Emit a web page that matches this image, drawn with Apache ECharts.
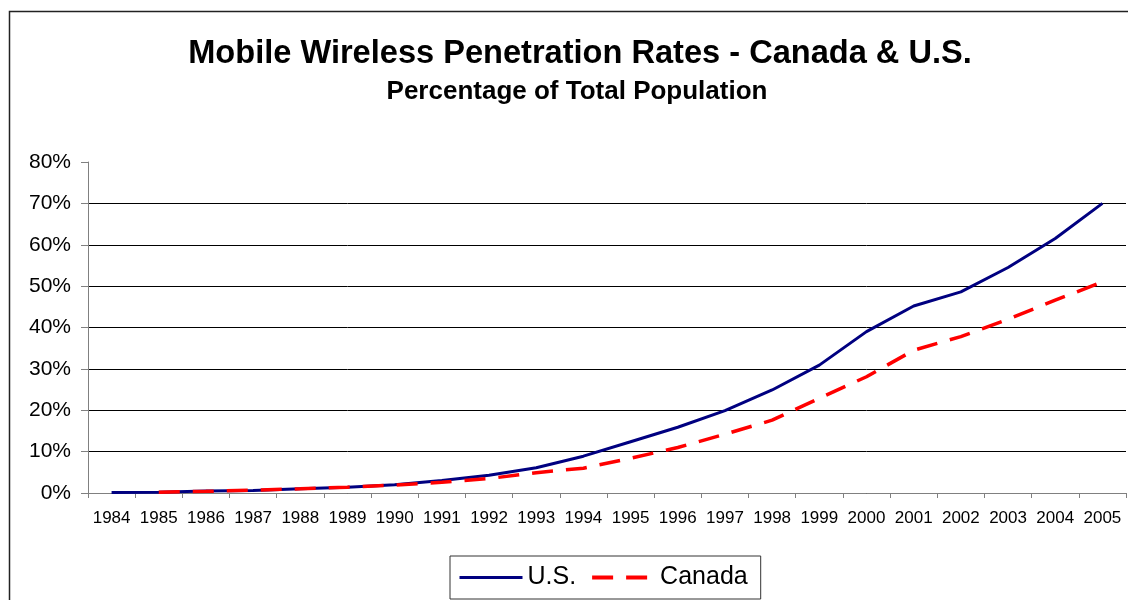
<!DOCTYPE html>
<html>
<head>
<meta charset="utf-8">
<script src="https://cdn.jsdelivr.net/npm/echarts@6/dist/echarts.min.js"></script>
<style>
  html, body { margin: 0; padding: 0; background: #fff; }
  #chart { width: 1128px; height: 600px; }
</style>
</head>
<body>
<div id="chart"></div>
<script>
// Years on the category axis
const years = ['1984','1985','1986','1987','1988','1989','1990','1991','1992','1993','1994',
               '1995','1996','1997','1998','1999','2000','2001','2002','2003','2004','2005'];

// Mobile wireless subscribers as a share of total population (%)
const usRates = [0.1, 0.2, 0.5, 0.6, 1.0, 1.4, 2.0, 3.0, 4.3, 6.1, 8.9,
                 12.4, 15.9, 19.9, 24.9, 30.9, 39.0, 45.2, 48.6, 54.5, 61.5, 70.0];
const canadaRates = [null, 0.2, 0.4, 0.7, 1.0, 1.4, 1.9, 2.6, 3.5, 4.9, 6.0,
                     8.4, 11.0, 14.2, 17.6, 22.9, 28.1, 34.5, 37.8, 42.0, 46.6, 51.0];

// Value axis ticks
const yMin = 0, yMax = 80, yStep = 10;

const FONT = 'Liberation Sans, Arial, sans-serif';

const chart = echarts.init(document.getElementById('chart'), null, { renderer: 'canvas' });

chart.setOption({
  backgroundColor: '#fff',
  animation: false,
  textStyle: { fontFamily: FONT, color: '#000' },
  title: [
    {
      text: 'Mobile Wireless Penetration Rates - Canada & U.S.',
      left: 575, top: 33, textAlign: 'center',
      textStyle: { fontSize: 32.6, fontWeight: 'bold', color: '#000', fontFamily: FONT }
    },
    {
      text: 'Percentage of Total Population',
      left: 572, top: 74, textAlign: 'center',
      textStyle: { fontSize: 26, fontWeight: 'bold', color: '#000', fontFamily: FONT }
    }
  ],
  graphic: [
    {
      type: 'rect', silent: true, z: -1,
      shape: { x: 9.5, y: 11.5, width: 1200, height: 700 },
      style: { fill: 'none', stroke: '#222', lineWidth: 1.5 }
    }
  ],
  legend: {
    data: [
      { name: 'U.S.', lineStyle: { width: 3 } },
      { name: 'Canada', lineStyle: { width: 4 } }
    ],
    left: 450, top: 556,
    padding: [9, 13, 9, 8],
    itemGap: 14,
    itemWidth: 63, itemHeight: 14,
    borderColor: '#333', borderWidth: 1,
    backgroundColor: '#fff',
    itemStyle: { opacity: 0 },
    textStyle: { fontSize: 25, color: '#000', fontFamily: FONT }
  },
  grid: { left: 88, right: 2, top: 162, bottom: 107, containLabel: false },
  xAxis: {
    type: 'category',
    data: years,
    boundaryGap: true,
    axisLine: { show: true, lineStyle: { color: '#808080', width: 1 } },
    axisTick: { show: true, length: 5, alignWithLabel: false, interval: 0, lineStyle: { color: '#808080' } },
    axisLabel: { interval: 0, fontSize: 17, color: '#000', margin: 17, fontFamily: FONT },
    splitLine: { show: false }
  },
  yAxis: {
    type: 'value',
    min: yMin, max: yMax, interval: yStep,
    axisLine: { show: true, lineStyle: { color: '#808080', width: 1 } },
    axisTick: { show: true, length: 7, inside: false, lineStyle: { color: '#808080' } },
    axisLabel: { formatter: '{value}%', fontSize: 21, color: '#000', margin: 17, fontFamily: FONT },
    splitLine: { show: true, showMaxLine: false, lineStyle: { color: '#000', width: 1 } }
  },
  series: [
    {
      name: 'U.S.',
      type: 'line',
      data: usRates,
      symbol: 'none',
      lineStyle: { color: '#000080', width: 3 },
      itemStyle: { color: '#000080' },
      z: 3
    },
    {
      name: 'Canada',
      type: 'line',
      data: canadaRates,
      symbol: 'none',
      connectNulls: false,
      lineStyle: { color: '#ff0000', width: 3.5, type: [21, 13] },
      itemStyle: { color: '#ff0000' },
      z: 4
    }
  ]
});
</script>
</body>
</html>
